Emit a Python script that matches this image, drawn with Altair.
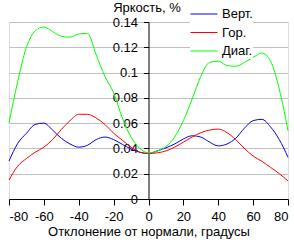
import altair as alt
import pandas as pd

angles = [-80, -75, -70, -65, -60, -55, -50, -45, -40, -35, -30, -25, -20, -15, -10, -5,
          0, 5, 10, 15, 20, 25, 30, 35, 40, 45, 50, 55, 60, 65, 70, 75, 80]

vert = [0.030, 0.044, 0.052, 0.059, 0.060, 0.0545, 0.048, 0.0435, 0.041, 0.0425, 0.047,
        0.049, 0.047, 0.0432, 0.0395, 0.037, 0.036, 0.038, 0.0405, 0.0435, 0.0475, 0.050,
        0.049, 0.045, 0.042, 0.0435, 0.048, 0.056, 0.062, 0.063, 0.057, 0.047, 0.033]

hor = [0.015, 0.026, 0.032, 0.037, 0.041, 0.047, 0.055, 0.062, 0.067, 0.067, 0.064,
       0.059, 0.052, 0.0465, 0.041, 0.037, 0.036, 0.0365, 0.038, 0.041, 0.045, 0.049,
       0.0525, 0.0545, 0.0553, 0.0525, 0.047, 0.040, 0.034, 0.0298, 0.025, 0.020, 0.0143]

diag = [0.060, 0.093, 0.120, 0.133, 0.136, 0.1325, 0.1287, 0.128, 0.1305, 0.131, 0.114,
        0.097, 0.084, 0.064, 0.049, 0.040, 0.0365, 0.038, 0.0415, 0.049, 0.062, 0.079,
        0.097, 0.108, 0.109, 0.1055, 0.105, 0.108, 0.112, 0.1155, 0.109, 0.087, 0.054]

series_names = ["Верт.", "Гор.", "Диаг."]
series_colors = ["#0000ff", "#ff0000", "#00ff00"]
x_ticks = [-80, -60, -40, -20, 0, 20, 40, 60, 80]
y_ticks = [0, 0.02, 0.04, 0.06, 0.08, 0.1, 0.12, 0.14]

rows = []
for name, vals in zip(series_names, [vert, hor, diag]):
    for a, v in zip(angles, vals):
        rows.append({"angle": a, "value": v, "series": name})
df = pd.DataFrame(rows)

FONT = "Liberation Sans"
W, H = 279, 177

chart = alt.Chart(df).mark_line(strokeWidth=1, interpolate="monotone").encode(
    x=alt.X("angle:Q",
            scale=alt.Scale(domain=[-80, 80], nice=False, zero=False),
            axis=alt.Axis(values=x_ticks, labelExpr="'' + datum.value",
                          title="Отклонение от нормали, градусы",
                          grid=False, domainColor="black", tickColor="black",
                          tickSize=6, labelPadding=5, titlePadding=2,
                          labelFontSize=13, titleFontSize=13, titleFontWeight="normal",
                          labelColor="black", titleColor="black",
                          labelFont=FONT, titleFont=FONT)),
    y=alt.Y("value:Q",
            scale=alt.Scale(domain=[0, 0.14], nice=False),
            axis=alt.Axis(values=y_ticks, format=".2~f", title="Яркость, %",
                          offset=-(W / 2), grid=True, gridColor="#c0c0c0",
                          domainColor="black", tickColor="black", tickSize=5,
                          labelPadding=6, labelFontSize=13, titleFontSize=13,
                          titleFontWeight="normal", labelColor="black", titleColor="black",
                          labelFont=FONT, titleFont=FONT,
                          titleAngle=0, titleX=-2, titleY=-11, titleAlign="center",
                          titleBaseline="alphabetic")),
    color=alt.Color("series:N",
                    scale=alt.Scale(domain=series_names, range=series_colors),
                    legend=alt.Legend(title=None, orient="none", legendX=181, legendY=-16,
                                      symbolType="stroke", symbolSize=729,
                                      symbolStrokeWidth=1, labelOffset=4,
                                      labelFontSize=13, labelFont=FONT, labelColor="black",
                                      clipHeight=16, rowPadding=2.5, padding=0,
                                      fillColor="white")),
).properties(
    width=W, height=H,
    autosize=alt.AutoSizeParams(type="none"),
    padding={"left": 9, "top": 22, "right": 294 - 9 - W, "bottom": 240 - 22 - H},
).configure_view(stroke=None).configure(background="white")

chart.save("out.html", embed_options={"renderer": "svg", "actions": False})
